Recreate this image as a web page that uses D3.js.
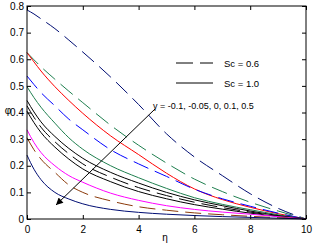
<!DOCTYPE html>
<html><head><meta charset="utf-8">
<script src="https://cdn.jsdelivr.net/npm/d3@7"></script>
<style>body{margin:0;background:#fff}svg{display:block}text{font-family:"Liberation Sans",Arial,sans-serif}</style>
</head><body>
<svg id="c" width="314" height="244"></svg>
<script>
const eta = [0,0.25,0.5,1,1.5,2,3,4,5,6,7,8,9,10];
const xTicks = [0,2,4,6,8,10];
const yTicks = [0,0.1,0.2,0.3,0.4,0.5,0.6,0.7,0.8];
const navyDashed  = [0.785,0.77,0.752,0.715,0.672,0.627,0.533,0.43,0.32,0.233,0.163,0.095,0.04,0];
const greenDashed = [0.625,0.598,0.572,0.525,0.48,0.437,0.352,0.277,0.21,0.15,0.103,0.063,0.03,0];
const redSolid    = [0.625,0.59,0.556,0.497,0.445,0.397,0.312,0.242,0.172,0.113,0.073,0.044,0.02,0];
const blueDashed  = [0.537,0.505,0.475,0.425,0.375,0.335,0.26,0.207,0.16,0.112,0.076,0.048,0.022,0];
const greenSolid  = [0.497,0.456,0.42,0.36,0.305,0.262,0.2,0.155,0.115,0.08,0.055,0.035,0.016,0];
const black1      = [0.445,0.402,0.365,0.31,0.265,0.228,0.175,0.135,0.1,0.072,0.05,0.03,0.013,0];
const blackDashed = [0.425,0.382,0.345,0.29,0.245,0.207,0.157,0.118,0.088,0.063,0.043,0.026,0.011,0];
const black2      = [0.405,0.362,0.325,0.27,0.225,0.188,0.14,0.103,0.076,0.054,0.037,0.022,0.01,0];
const magenta     = [0.335,0.287,0.25,0.2,0.163,0.138,0.097,0.07,0.05,0.036,0.026,0.018,0.009,0];
const brownDashed = [0.305,0.26,0.225,0.175,0.128,0.1,0.068,0.046,0.033,0.023,0.016,0.01,0.005,0];
const navySolid   = [0.24,0.187,0.148,0.1,0.075,0.057,0.036,0.025,0.018,0.013,0.009,0.006,0.003,0];

const series = [
  {v:navyDashed, c:"#000d73", d:true},
  {v:greenDashed, c:"#1f7f4f", d:true},
  {v:redSolid, c:"#ff0000", d:false},
  {v:blueDashed, c:"#0000ff", d:true},
  {v:greenSolid, c:"#1f7f4f", d:false},
  {v:black1, c:"#000", d:false},
  {v:blackDashed, c:"#000", d:true},
  {v:black2, c:"#000", d:false},
  {v:magenta, c:"#ff00ff", d:false},
  {v:brownDashed, c:"#8b3a0a", d:true},
  {v:navySolid, c:"#000d73", d:false}
];

const L=27,R=306,T=6,B=219;
const svg=d3.select("#c");
const x=d3.scaleLinear().domain([0,10]).range([L,R]);
const y=d3.scaleLinear().domain([0,0.8]).range([B,T]);

const line=d3.line().x((d,i)=>x(eta[i])).y(d=>y(d)).curve(d3.curveMonotoneX);
svg.append("g").selectAll("path").data(series).join("path")
  .attr("d",s=>line(s.v)).attr("fill","none").attr("stroke",s=>s.c)
  .attr("stroke-width",1).attr("stroke-dasharray",s=>s.d?"16,7":null);

// axes
const fs=10;
svg.append("g").attr("transform",`translate(0,${B})`)
  .call(d3.axisBottom(x).tickValues(xTicks).tickSize(-4).tickPadding(7).tickFormat(d3.format("d")));
svg.append("g").attr("transform",`translate(${L},0)`)
  .call(d3.axisLeft(y).tickValues(yTicks).tickSize(-4).tickPadding(3).tickFormat(d=>d===0?"0":d3.format(".1f")(d)));
svg.append("g").attr("transform",`translate(0,${T})`)
  .call(d3.axisTop(x).tickValues(xTicks).tickSize(-4).tickFormat(""));
svg.append("g").attr("transform",`translate(${R},0)`)
  .call(d3.axisRight(y).tickValues(yTicks).tickSize(-4).tickFormat(""));
svg.selectAll(".domain").remove();
svg.selectAll(".tick line").attr("stroke","#000");
svg.selectAll(".tick text").attr("font-size",fs).attr("fill","#000").attr("font-family","Liberation Sans, Arial, sans-serif");
svg.append("rect").attr("x",L).attr("y",T).attr("width",R-L).attr("height",B-T)
  .attr("fill","none").attr("stroke","#000").attr("stroke-width",1);

// axis labels
svg.append("text").attr("x",165).attr("y",241).attr("text-anchor","middle").attr("font-size",10).text("η");
svg.append("text").attr("x",8).attr("y",114).attr("text-anchor","middle").attr("font-size",10).text("φ");

// legend
svg.append("line").attr("x1",176).attr("x2",213).attr("y1",63).attr("y2",63).attr("stroke","#000").attr("stroke-dasharray","17,7");
svg.append("line").attr("x1",176).attr("x2",213).attr("y1",83).attr("y2",83).attr("stroke","#000");
svg.append("text").attr("x",224).attr("y",66.5).attr("font-size",9.5).text("Sc = 0.6");
svg.append("text").attr("x",224).attr("y",86.5).attr("font-size",9.5).text("Sc = 1.0");

// annotation
svg.append("text").attr("x",153).attr("y",109).attr("font-size",9).text("γ = -0.1, -0.05, 0, 0.1, 0.5");
svg.append("defs").append("marker").attr("id","ah").attr("viewBox","0 0 10 10").attr("refX",10).attr("refY",5)
  .attr("markerWidth",9).attr("markerHeight",7).attr("markerUnits","userSpaceOnUse").attr("orient","auto")
  .append("path").attr("d","M0,0L10,5L0,10z").attr("fill","#000");
svg.append("line").attr("x1",155).attr("y1",109).attr("x2",56).attr("y2",205)
  .attr("stroke","#000").attr("stroke-width",1).attr("marker-end","url(#ah)");
</script>
</body></html>
